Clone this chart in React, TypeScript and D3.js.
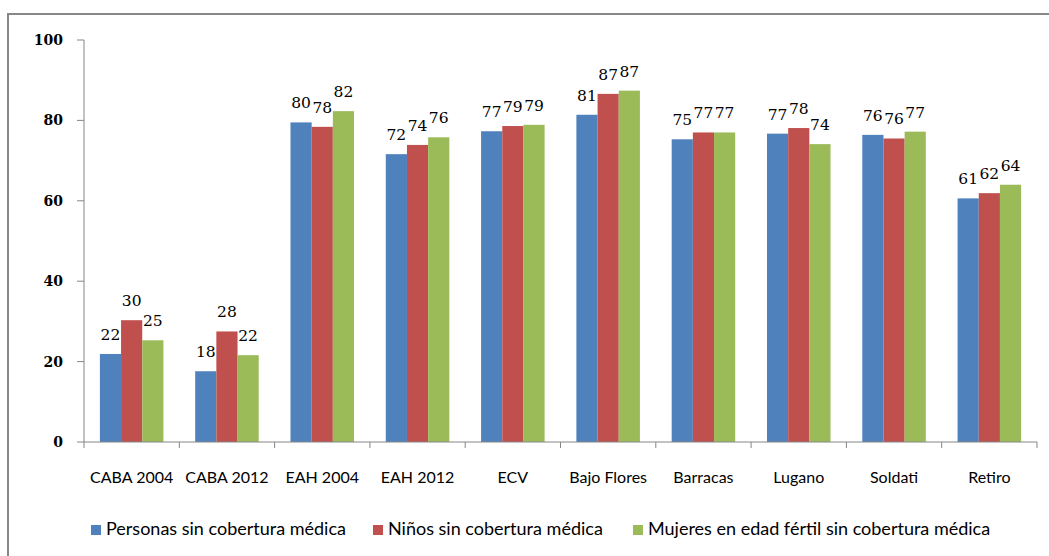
import React from "react";
import * as d3 from "d3";

const categories = ["CABA 2004", "CABA 2012", "EAH 2004", "EAH 2012", "ECV", "Bajo Flores", "Barracas", "Lugano", "Soldati", "Retiro"];
const seriesNames = ["Personas sin cobertura médica", "Niños sin cobertura médica", "Mujeres en edad fértil sin cobertura médica"];
const personas = [21.9, 17.6, 79.5, 71.6, 77.3, 81.4, 75.3, 76.7, 76.4, 60.6];
const ninos = [30.3, 27.5, 78.4, 73.9, 78.6, 86.6, 77.0, 78.1, 75.5, 61.9];
const mujeres = [25.3, 21.6, 82.3, 75.8, 78.9, 87.4, 77.0, 74.1, 77.2, 64.0];
const yTicks = [0, 20, 40, 60, 80, 100];
const colors = ["#4F81BD", "#C0504D", "#9BBB59"];

export default function App() {
  const W = 1049, H = 556;
  const left = 84, right = 1037, top = 40, bottom = 442;
  const series = [personas, ninos, mujeres];
  const x = d3.scaleBand<string>().domain(categories).range([left, right]).paddingInner(0).paddingOuter(0);
  const bw = x.bandwidth();
  const barW = bw / 4.5;
  const y = d3.scaleLinear().domain([0, 100]).range([bottom, top]);
  const axisColor = "#868686";
  const legendX = [91, 373, 633];

  return (
    <svg width={W} height={H} style={{ position: "absolute", left: 0, top: 0 }}>
      <rect x={0} y={0} width={W} height={H} fill="#fff" />
      <rect x={8} y={14} width={W} height={H} fill="none" stroke="#878787" strokeWidth={2} />
      {categories.map((c, i) =>
        series.map((s, j) => {
          const bx = (x(c) as number) + bw / 2 - 1.5 * barW + j * barW;
          return (
            <rect key={c + j} x={bx} y={y(s[i])} width={barW} height={y(0) - y(s[i])} fill={colors[j]} />
          );
        })
      )}
      {categories.map((c, i) =>
        series.map((s, j) => {
          const bx = (x(c) as number) + bw / 2 - 1.5 * barW + j * barW + barW / 2;
          return (
            <text key={"l" + c + j} x={bx} y={y(s[i]) - 14} textAnchor="middle" fontFamily="DejaVu Serif" fontSize={15.5} fill="#000">
              {Math.round(s[i])}
            </text>
          );
        })
      )}
      <line x1={left} x2={left} y1={top} y2={bottom} stroke={axisColor} />
      {yTicks.map((t) => (
        <g key={t}>
          <line x1={left - 7} x2={left} y1={y(t)} y2={y(t)} stroke={axisColor} />
          <text x={63} y={y(t) + 5} textAnchor="end" fontFamily="DejaVu Serif" fontWeight="bold" fontSize={14} fill="#000">
            {t}
          </text>
        </g>
      ))}
      <line x1={left} x2={right} y1={bottom} y2={bottom} stroke={axisColor} />
      {categories.map((c) => (
        <line key={"t" + c} x1={x(c) as number} x2={x(c) as number} y1={bottom} y2={bottom + 6} stroke={axisColor} />
      ))}
      <line x1={right} x2={right} y1={bottom} y2={bottom + 6} stroke={axisColor} />
      {categories.map((c) => (
        <text key={"c" + c} x={(x(c) as number) + bw / 2} y={483} textAnchor="middle" fontFamily="Lato" fontSize={16} fill="#000">
          {c}
        </text>
      ))}
      {seriesNames.map((n, j) => (
        <g key={n}>
          <rect x={legendX[j]} y={525} width={10} height={10} fill={colors[j]} />
          <text x={legendX[j] + 15} y={535} fontFamily="Lato" fontSize={18} fill="#000">
            {n}
          </text>
        </g>
      ))}
    </svg>
  );
}
